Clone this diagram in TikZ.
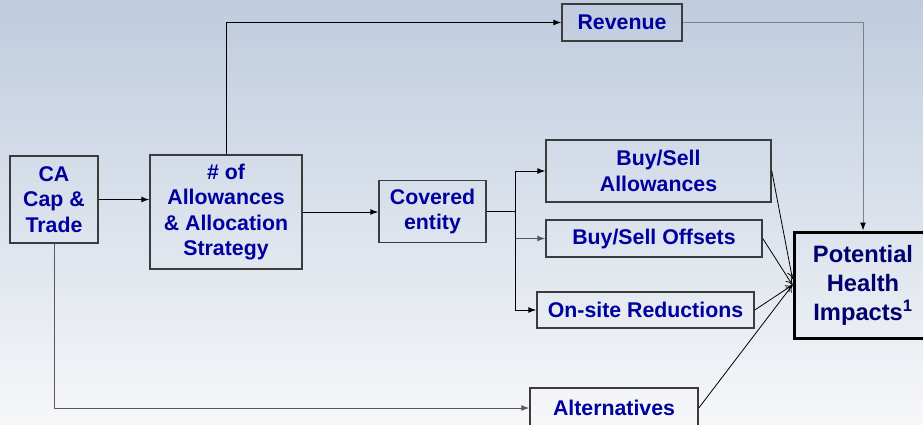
\documentclass[tikz,border=0pt]{standalone}
\usepackage{fontspec}
\setmainfont{Liberation Sans}
\usetikzlibrary{arrows.meta}
\definecolor{labelblue}{RGB}{0,0,160}
\definecolor{navyblue}{RGB}{0,0,110}
\definecolor{bgtop}{RGB}{191,204,222}
\definecolor{bgbottom}{RGB}{246,247,249}
\definecolor{edgegray}{RGB}{60,60,60}
\begin{document}
\begin{tikzpicture}[x=1pt,y=-1pt,
    box/.style={draw=edgegray,line width=1.5pt,align=center,text=labelblue,
      font=\fontsize{21.3}{25.5}\selectfont\bfseries,inner sep=0pt},
    feed/.style={-{Latex[length=8pt,width=6pt]},line width=1pt},
    merge/.style={-{To[length=7pt,width=8pt]},line width=0.8pt}]
    % background
    \shade[top color=bgtop,bottom color=bgbottom] (0,0) rectangle (923,425);
    \useasboundingbox (0,0) rectangle (923,425);
    \clip (0,0) rectangle (923,425);

    % left column
    \node[box,minimum width=88,minimum height=87] (cap) at (54,199.5) {CA\\Cap \&\\Trade};
    \node[box,minimum width=152,minimum height=114] (alloc) at (226,212) {\# of\\Allowances\\\& Allocation\\Strategy};
    \node[box,minimum width=107,minimum height=62] (cov) at (432.5,211.5) {Covered\\entity};

    % options of the covered entity
    \node[box,minimum width=120,minimum height=37] (rev) at (622,22.5) {Revenue};
    \node[box,minimum width=225,minimum height=62] (bsa) at (658.5,171) {Buy/Sell\\Allowances};
    \node[box,minimum width=216,minimum height=37] (bso) at (654,238.5) {Buy/Sell Offsets};
    \node[box,minimum width=217,minimum height=36] (onsite) at (645.5,310) {On-site Reductions};
    \node[box,minimum width=168,minimum height=40] (alt) at (614,408) {Alternatives};

    % outcome
    \node[box,draw=black,line width=3pt,text=navyblue,minimum width=138,minimum height=106,
      font=\fontsize{23.7}{29}\selectfont\bfseries] (phi) at (863,285)
      {Potential\\Health\\Impacts\textsuperscript{1}};

    % connectors
    \draw[feed] (cap.east) -- (cap.east -| alloc.west);
    \draw[feed] (alloc.north) |- (rev.west);
    \draw[feed] (alloc.east) -- (alloc.east -| cov.west);
    \draw[feed,draw=gray,-{Latex[length=8pt,width=6pt,black]}] (rev.east) -| (phi.north);
    \draw[feed,draw=gray!70!black] (cap.south) |- (alt.west);

    \coordinate (split) at (515,211.5);
    \draw[line width=1pt] (cov.east) -- (split);
    \draw[feed] (split) |- (bsa.west);
    \draw[feed,draw=gray!70!black] (split) |- (bso.west);
    \draw[feed] (split) |- (onsite.west);

    \draw[merge] (bsa.east) -- ([yshift=6pt]phi.west);
    \draw[merge] (bso.east) -- (phi.west);
    \draw[merge] (onsite.east) -- (phi.west);
    \draw[merge] (alt.east) -- (phi.west);
\end{tikzpicture}
\end{document}
